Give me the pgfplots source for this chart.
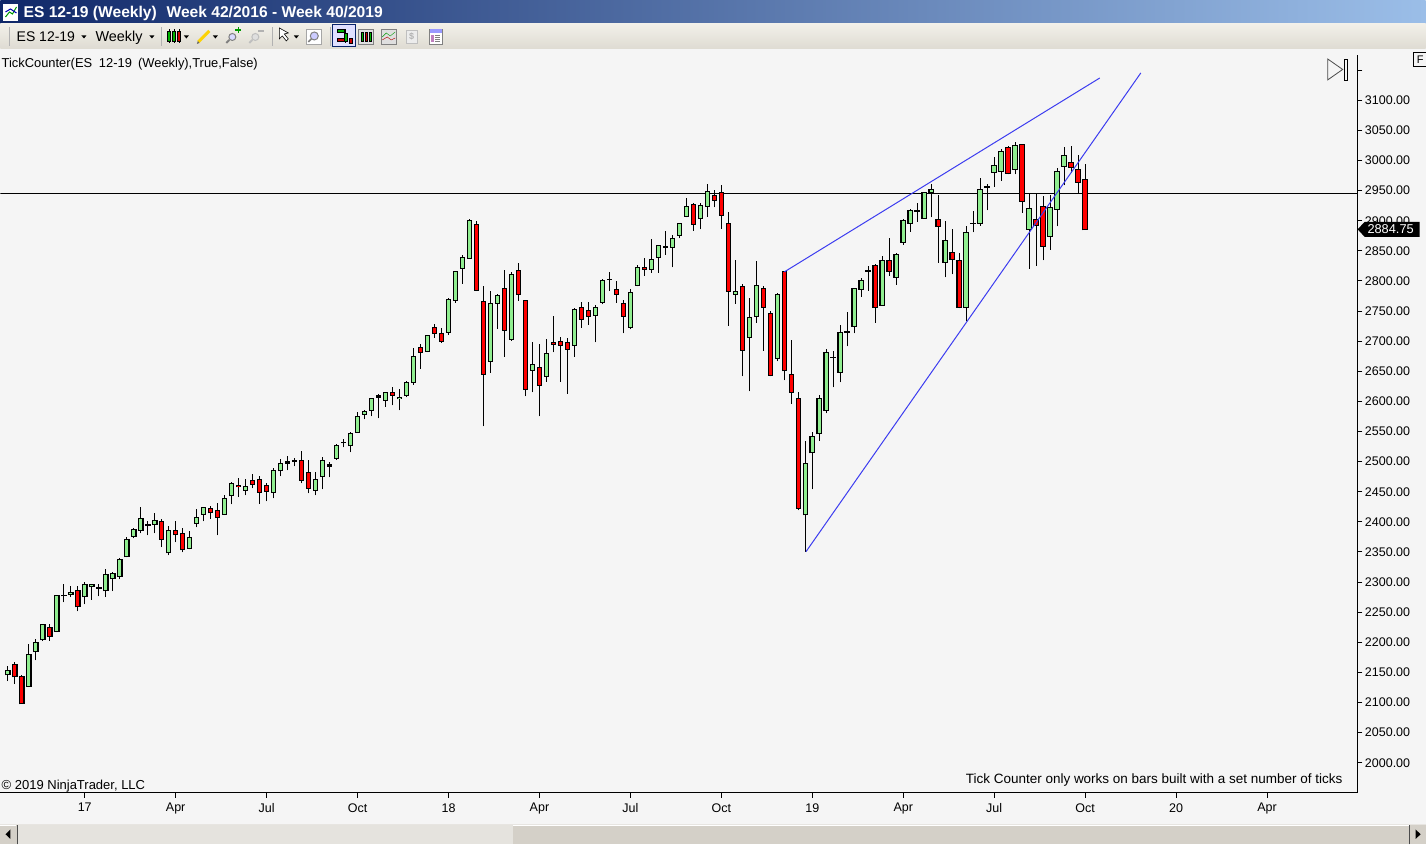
\documentclass[border=0pt]{standalone}
\usepackage{pgfplots}
\usepackage{pgfplotstable}
\usepackage{fontspec}
\setmainfont{Liberation Sans}
\pgfplotsset{compat=1.18}

\definecolor{chartbg}{HTML}{F5F5F5}
\definecolor{candleup}{HTML}{90EE90}
\definecolor{candledown}{HTML}{FF0000}
\definecolor{drawline}{HTML}{3C3CF0}
\definecolor{winbeige}{HTML}{D4D0C8}

% week index, low, body bottom, body top, high
\pgfplotstableread{
x low bot top high
0 2135.5 2146 2152.5 2161
3 2125.5 2127.5 2179 2198
4 2170 2184 2199 2205.5
5 2202 2204 2229 2230.5
7 2217 2218.5 2278.5 2279
9 2275 2280 2283.5 2293.5
11 2263 2275.5 2295.5 2300.5
12 2271 2292 2295.5 2297
14 2275 2285.5 2312 2321
15 2285 2305.5 2315 2317
16 2304.5 2310 2337 2340
17 2341 2342 2371.5 2375
18 2372.5 2376.5 2388 2390
19 2381 2386.5 2405 2424.5
21 2381 2396 2401.5 2415
23 2344.5 2348.5 2385 2393
26 2354.5 2356.5 2373.5 2385
27 2391 2398 2406.5 2422
28 2401 2413 2424.5 2424.5
31 2411 2413 2439.5 2444.5
32 2429 2443 2464.5 2466
34 2444 2452.5 2459 2471
38 2439 2449 2484.5 2489.5
39 2475.5 2484.5 2497.5 2504.5
44 2444 2452.5 2471 2483.5
45 2454 2476 2502.5 2507.5
47 2503.5 2505.5 2527.5 2529
49 2515.5 2526 2547.5 2549
50 2549 2549 2575.5 2582.5
51 2570 2579 2584 2585.5
52 2575 2585.5 2605.5 2605.5
54 2591.5 2602 2614 2615.5
56 2585 2604 2607 2620.5
57 2606.5 2610.5 2632 2633.5
58 2628 2632 2675 2688.5
60 2682 2683.5 2710 2710
63 2710 2715 2770 2771.5
64 2764 2768 2816 2816
65 2795.5 2821 2839.5 2843
66 2838 2838 2901 2902.5
69 2647.5 2667 2763 2783
70 2721 2763 2776.5 2778
72 2701 2703.5 2811 2814.5
75 2615 2652 2660.5 2698.5
77 2633 2642 2680 2703.5
81 2674.5 2693.5 2753 2755
84 2698 2743 2756.5 2760
85 2761 2765 2801.5 2803
89 2719.5 2723.5 2781.5 2786.5
90 2791 2793 2823 2826
92 2814 2819.5 2836 2869.5
93 2814 2839.5 2859.5 2859.5
95 2822.5 2856 2871 2876
96 2870.5 2876 2896 2896
97 2905.5 2907.5 2924 2937.5
99 2885.5 2904 2925.5 2929
100 2906.5 2924 2949 2960.5
104 2762.5 2778 2783 2834.5
106 2616.5 2706.5 2738.5 2771.5
107 2731 2741.5 2793 2833
110 2666.5 2672 2778 2779.5
114 2350.5 2411.5 2497.5 2534
115 2454 2514.5 2541 2549
116 2535 2546 2605.5 2610.5
117 2580 2585.5 2682 2687
119 2631.5 2648.5 2715 2726.5
121 2713 2725 2788 2788
122 2773.5 2786.5 2801.5 2804.5
125 2759 2760 2834.5 2841
127 2794 2806 2844.5 2846
128 2860.5 2864.5 2901 2902.5
129 2881.5 2896 2917.5 2919
131 2904 2904 2947.5 2947.5
132 2905.5 2947.5 2952.5 2960.5
134 2806 2831 2867.5 2899
137 2733 2756.5 2881 2891
139 2892 2896 2952.5 2970.5
141 2956.5 2980.5 2992 3005.5
142 2966 2982 3015.5 3018.5
144 2977 2985.5 3025.5 3030
146 2820.5 2886 2921 2944
149 2852 2874.5 2922.5 2942.5
150 2890.5 2919 2982 2987
151 2958.5 2990.5 3008.5 3022
}\upweeks

\pgfplotstableread{
x low bot top high
1 2130.5 2142.5 2164 2167.5
2 2098 2098 2144 2145.5
6 2203 2210.5 2224 2230.5
10 2251.5 2259 2285.5 2293.5
22 2358 2371.5 2400 2405
24 2366 2378.5 2386.5 2401.5
25 2349.5 2353.5 2381.5 2390
29 2404.5 2415 2423 2426.5
30 2377.5 2408 2419.5 2431.5
33 2441 2458 2461 2473
35 2455.5 2462.5 2468 2479.5
36 2430.5 2449 2470.5 2476
37 2434 2450.5 2461 2464.5
42 2464 2469.5 2502.5 2517.5
43 2447.5 2456 2482.5 2502.5
55 2593.5 2610.5 2614 2624.5
59 2654.5 2682 2690 2695
61 2706 2713 2722 2728
62 2697 2700 2713.5 2721.5
67 2783 2784.5 2894 2899
68 2558.5 2645.5 2766.5 2791.5
71 2674.5 2718.5 2788 2818
73 2767.5 2778 2818 2829.5
74 2608.5 2620.5 2768 2768
76 2575 2627 2655.5 2695
78 2681.5 2695 2698.5 2741.5
79 2633 2693.5 2700 2706.5
80 2613 2687 2698.5 2705
82 2722.5 2736.5 2756.5 2765
83 2727.5 2741.5 2751.5 2765
87 2764 2778 2786.5 2799.5
88 2713 2741.5 2763 2768
91 2809 2819.5 2823 2838
98 2883 2894 2927.5 2929
101 2922 2934 2942.5 2951
102 2887 2909 2947.5 2959
103 2726 2783 2896 2914
105 2641.5 2685 2791.5 2794.5
108 2684.5 2756.5 2788 2791.5
109 2641.5 2643.5 2746.5 2750
111 2635 2650.5 2816 2816
112 2596.5 2615.5 2645.5 2702
113 2419 2423 2604 2615.5
124 2731 2756.5 2826 2828
126 2809 2816 2834.5 2871
133 2830.5 2891 2902.5 2942.5
135 2811 2836 2848 2886
136 2754.5 2756.5 2834.5 2846
143 2977 2979 3022 3023.5
145 2913.5 2932.5 3027 3027
147 2825.5 2892.5 2902.5 2945.5
148 2834 2858 2924 2940.5
152 2979 2989 2997 3023.5
153 2945.5 2964 2985.5 3008.5
154 2884.75 2884.75 2969 2994
}\downweeks

% open and close a tick or two apart: drawn as a black dash
\pgfplotstableread{
x low bot top high
8 2266.5 2277 2278.5 2297.5
13 2276.5 2290 2291 2297.5
20 2377.5 2394.5 2395.5 2401.5
40 2485.5 2497.5 2499.5 2509.5
41 2492 2501 2502.5 2506
46 2474 2492.5 2494.5 2499.5
48 2523.5 2531 2532.5 2537.5
53 2572 2607 2609 2612
86 2784 2803 2803 2814.5
94 2843.5 2856 2857.5 2882.5
118 2623.5 2673.5 2673.5 2683.5
120 2691.5 2715 2716.5 2748
123 2784 2816 2818 2824.5
130 2898.5 2916 2917.5 2929
138 2880.5 2896 2896 2916
140 2917 2955.5 2957.5 2960.5
}\dashweeks

\pgfplotsset{
  wick/.style={draw=none, mark=none, forget plot,
    error bars/.cd, y dir=plus, y explicit, error mark=none,
    error bar style={draw=black, line width=1pt, line cap=butt}},
  bodyline/.style={draw=none, mark=none, forget plot,
    error bars/.cd, y dir=plus, y explicit, error mark=none,
    error bar style={draw=black, line width=5.6pt, line cap=butt}},
  bodyfill/.style={draw=none, mark=none, forget plot,
    error bars/.cd, y dir=plus, y explicit, error mark=none,
    error bar style={draw=#1, line width=3.4pt, line cap=butt}},
}

\begin{document}
\begin{tikzpicture}
\begin{scope}[x=1pt,y=1pt]
\useasboundingbox (0,0) rectangle (1426,845);
\fill[chartbg] (0,0) rectangle (1426,845);

% window title bar
\shade[left color={rgb,255:red,16;green,40;blue,105}, right color={rgb,255:red,155;green,190;blue,232}] (0,821) rectangle (1426,845);
\fill[white] (3,824) rectangle (18,841);
\draw[green!60!black,line width=1pt] (5,828) -- (9,833) -- (12,831) -- (16,838);
\draw[blue!70!black,line width=1pt] (5,833) -- (10,836) -- (16,832);
\node[anchor=base west,inner sep=0pt,text=white,font=\fontsize{15.6}{17}\selectfont\bfseries] at (23,827.5) {ES 12-19 (Weekly)\hspace{0.35em} Week 42/2016 - Week 40/2019};

% toolbar
\shade[top color={rgb,255:red,242;green,240;blue,233}, bottom color={rgb,255:red,222;green,219;blue,210}] (0,796) rectangle (1426,821);
\draw[gray!60] (8.5,799) -- (8.5,818);
\draw[gray!60] (160.5,799) -- (160.5,818);
\draw[gray!60] (271.5,799) -- (271.5,818);
\draw[gray!60] (329.5,799) -- (329.5,818);
\node[anchor=base west,inner sep=0pt,font=\fontsize{14}{16}\selectfont] at (16,803.5) {ES 12-19};
\node[anchor=base west,inner sep=0pt,font=\fontsize{14.4}{16}\selectfont] at (95,803.5) {Weekly};
\foreach \ax in {83.5,151.5,186,215,296}
  \fill (\ax-2.5,809.5) -- (\ax+2.5,809.5) -- (\ax,806.5) -- cycle;
% chart style icon
\foreach \ax/\ac in {168.5/green!70!black,173.5/green!70!black,178.5/red!80!black}{
  \draw[black] (\ax,802) -- (\ax,816);
  \fill[\ac,draw=black,line width=.5pt] (\ax-1.5,804) rectangle (\ax+1.5,814);}
% pencil
\draw[yellow!70!orange,line width=3pt] (198,803) -- (209,814);
\fill[black!60] (196.5,801) -- (199,802) -- (197.5,804) -- cycle;
% zoom icons
\draw[gray,line width=1pt,fill=blue!15] (232,808) circle (3.5);
\draw[gray,line width=2pt] (229,805) -- (226,802);
\draw[green!60!black,line width=1.2pt] (235,815) -- (241,815) (238,812) -- (238,818);
\draw[gray!50,line width=1pt,fill=gray!25] (255,808) circle (3.5);
\draw[gray!50,line width=2pt] (252,805) -- (249,802);
\draw[gray!60,line width=1.2pt] (258,814) -- (264,814);
% pointer and magnifier
\draw[black,fill=white,line width=.6pt] (279,817) -- (279,806) -- (282,809) -- (286,804) -- (288,806) -- (284,811) -- (288,812) -- cycle;
\fill[white,draw=gray!70] (306,801) rectangle (321,816);
\draw[gray,line width=1pt,fill=blue!20] (314,809) circle (4);
\draw[gray,line width=1.5pt] (311,806) -- (308,803);
% toggles
\fill[blue!12,draw={rgb,255:red,10;green,36;blue,106},line width=1pt] (332.5,798) rectangle (355,820);
\foreach \ax/\ay/\ac in {337/813/green!70!black,337/804/red!80!black}
  \fill[\ac,draw=black,line width=.4pt] (\ax,\ay) rectangle (\ax+7,\ay+3);
\draw (345,802) -- (345,816);
\fill[green!70!black,draw=black,line width=.4pt] (343.5,804) rectangle (346.5,812);
\fill[red!80!black,draw=black,line width=.4pt] (349,802) rectangle (352,807);
\fill[gray!25,draw=gray,line width=.5pt] (358,801) rectangle (373,816);
\foreach \ax/\ac in {361.5/green!70!black,366/red!80!black,370/green!70!black}
  \fill[\ac,draw=black,line width=.4pt] (\ax-1,804) rectangle (\ax+1,813);
\fill[gray!25,draw=gray,line width=.5pt] (381,801) rectangle (396,816);
\draw[green!60!black] (382,808) -- (386,812) -- (390,809) -- (395,813);
\draw[red!70!black] (382,805) -- (387,808) -- (391,805) -- (395,807);
\fill[gray!15,draw=gray!50,line width=.5pt] (406,802) rectangle (417,815);
\node[text=gray!60,inner sep=0pt,font=\fontsize{9}{9}\selectfont\bfseries] at (411.5,808.5) {\$};
\fill[white,draw=gray,line width=.5pt] (429,801) rectangle (442,816);
\fill[blue!40] (429.5,812) rectangle (441.5,815.5);
\fill[violet!50] (431,803) rectangle (434,810);
\foreach \ay in {804,806,808,810} \draw[gray,line width=.5pt] (435,\ay) -- (440,\ay);
\end{scope}

\begin{axis}[
  at={(0pt,51.7pt)}, anchor=south west,
  scale only axis, width=1357.8pt, height=738.3pt,
  xmin=-1.043, xmax=192.93, ymin=1950.2, ymax=3175.2,
  axis x line*=bottom, axis y line*=right,
  axis line style={-, line width=1pt},
  every tick/.style={black, line width=1pt},
  tick align=outside, major tick length=5pt,
  xtick={11,24,37,50,63,76,89,102,115,128,141,154,167,180},
  xticklabels={17,Apr,Jul,Oct,18,Apr,Jul,Oct,19,Apr,Jul,Oct,20,Apr},
  ytick={2000,2050,...,3150},
  yticklabels={2000.00,2050.00,2100.00,2150.00,2200.00,2250.00,2300.00,2350.00,2400.00,2450.00,2500.00,2550.00,2600.00,2650.00,2700.00,2750.00,2800.00,2850.00,2900.00,2950.00,3000.00,3050.00,3100.00,{}},
  tick label style={font=\fontsize{12.5}{14}\selectfont},
  xticklabel style={yshift=-2pt},
  yticklabel style={xshift=-1pt},
]
\addplot[black, line width=1pt, forget plot] coordinates {(-1.043,2945.75) (192.93,2945.75)};

% wicks first, so the bodies cover them
\addplot[wick] table[x=x, y=low, y error plus expr=\thisrow{high}-\thisrow{low}] {\upweeks};
\addplot[wick] table[x=x, y=low, y error plus expr=\thisrow{high}-\thisrow{low}] {\downweeks};
\addplot[wick] table[x=x, y=low, y error plus expr=\thisrow{high}-\thisrow{low}] {\dashweeks};

\addplot[bodyline] table[x=x, y expr=\thisrow{bot}-0.83, y error plus expr=\thisrow{top}-\thisrow{bot}+1.66] {\upweeks};
\addplot[bodyline] table[x=x, y expr=\thisrow{bot}-0.83, y error plus expr=\thisrow{top}-\thisrow{bot}+1.66] {\downweeks};
\addplot[bodyline] table[x=x, y expr=\thisrow{bot}-0.83, y error plus expr=\thisrow{top}-\thisrow{bot}+1.66] {\dashweeks};

\addplot[bodyfill=candleup] table[x=x, y expr=\thisrow{bot}+0.83, y error plus expr=\thisrow{top}-\thisrow{bot}-1.66] {\upweeks};
\addplot[bodyfill=candledown] table[x=x, y expr=\thisrow{bot}+0.83, y error plus expr=\thisrow{top}-\thisrow{bot}-1.66] {\downweeks};

% trend lines
\addplot[drawline, line width=1pt, forget plot] coordinates {(111,2815) (156.1,3137)};
\addplot[drawline, line width=1pt, forget plot] coordinates {(114.1,2350.5) (161.96,3145.3)};
\end{axis}

\begin{scope}[x=1pt,y=1pt]
% last price tag
\fill[black] (1358,615.5) -- (1365,623) -- (1420,623) -- (1420,608) -- (1365,608) -- cycle;
\node[text=white,inner sep=0pt,font=\fontsize{12.8}{14}\selectfont] at (1391,615.5) {2884.75};

% texts in the chart area
\node[anchor=base west,inner sep=0pt,font=\fontsize{12.9}{14}\selectfont] at (1,777) {TickCounter(ES\hspace{0.25em} 12-19\hspace{0.2em} (Weekly),True,False)};
\node[anchor=base west,inner sep=0pt,font=\fontsize{13}{14}\selectfont] at (1,54.5) {© 2019 NinjaTrader, LLC};
\node[anchor=base east,inner sep=0pt,font=\fontsize{13.5}{14}\selectfont] at (1343,61) {Tick Counter only works on bars built with a set number of ticks};

% end-of-data marker and F box
\draw[black!70,line width=.8pt,fill=chartbg] (1328,765) -- (1328,786) -- (1343,775.5) -- cycle;
\draw[black,line width=.8pt,fill=chartbg] (1344.5,765) rectangle (1348,786);
\fill[chartbg] (1413,779) rectangle (1426,793);
\draw[black,line width=.8pt] (1413.5,779) -- (1413.5,793) -- (1426,793) (1413.5,779) -- (1426,779);
\node[inner sep=0pt,font=\fontsize{11}{12}\selectfont] at (1420.5,785.5) {F};

% scrollbar
\fill[winbeige!55!white] (0,0) rectangle (1426,20);
\fill[winbeige!60!white] (17,0) rectangle (513,19.5);
\fill[winbeige] (513,0) rectangle (1410,19.5);
\draw[white,line width=.7pt] (513,19.5) -- (1410,19.5);
\fill[winbeige] (0,0) rectangle (16.5,19.5);
\draw[white,line width=.7pt] (0,19.5) -- (16,19.5);
\draw[black!70,line width=.7pt] (16.5,0) -- (16.5,19.5);
\fill[black] (10,5.5) -- (10,15) -- (5,10.2) -- cycle;
\fill[winbeige] (1410,0) rectangle (1426,19.5);
\draw[black!70,line width=.8pt] (1409.5,0) -- (1409.5,19.5);
\fill[black] (1416,5.5) -- (1416,15) -- (1421,10.2) -- cycle;
\end{scope}
\end{tikzpicture}
\end{document}
